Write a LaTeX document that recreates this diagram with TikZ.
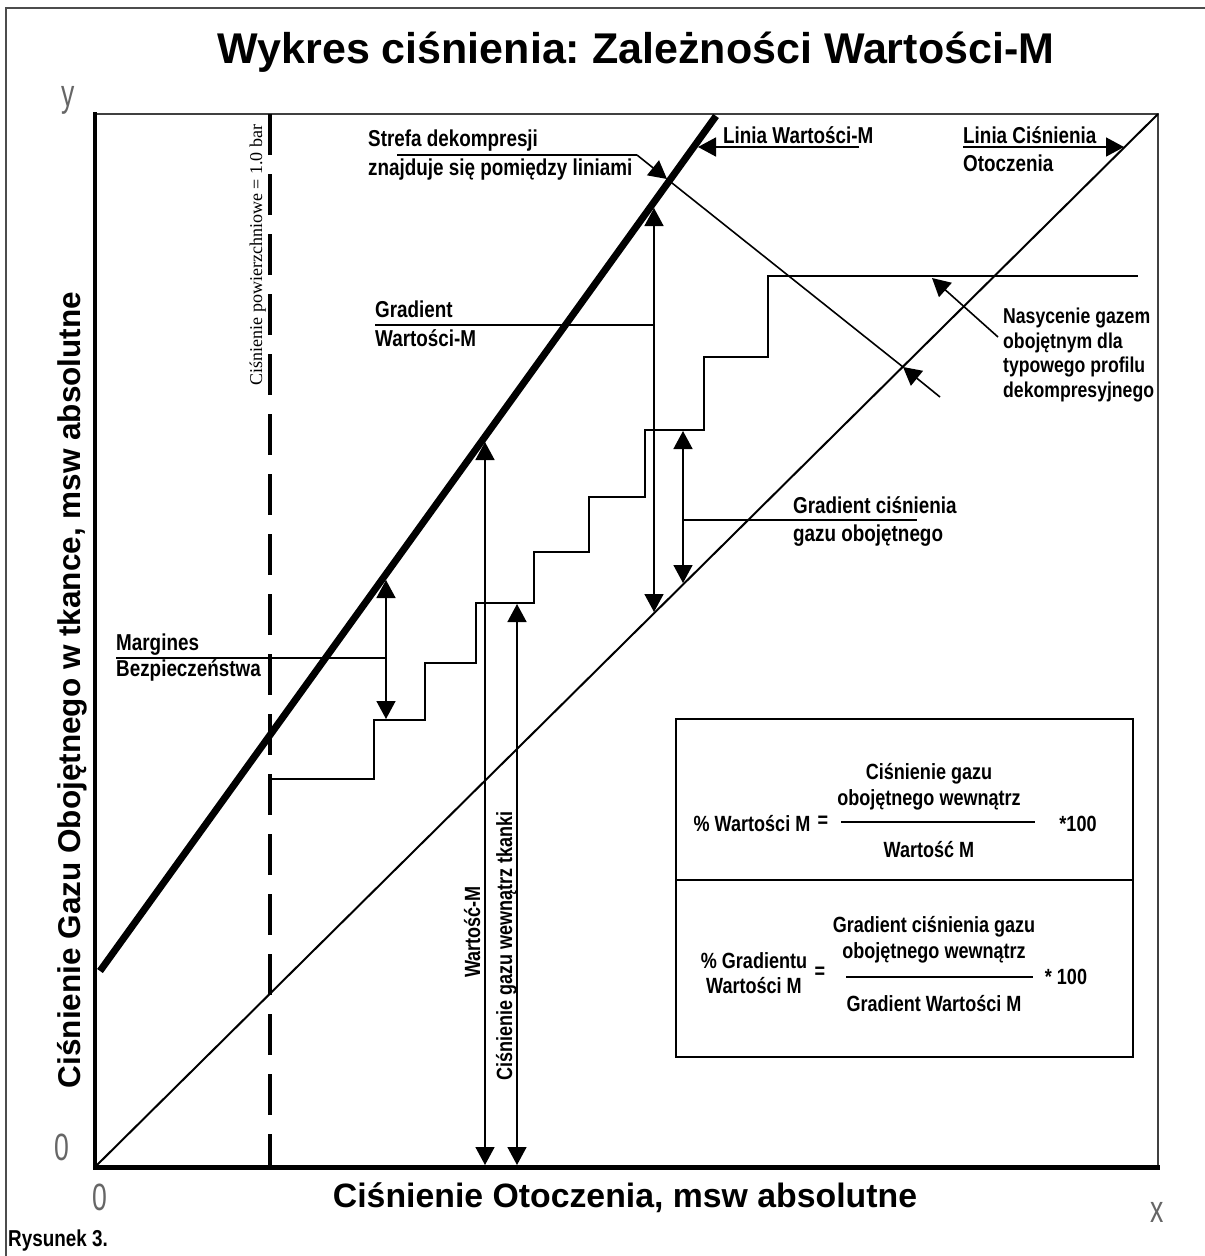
\documentclass[tikz,border=0pt]{standalone}
\usepackage{fontspec}
\newfontfamily\headfont{Liberation Sans}
\newfontfamily\narrowfont[FakeStretch=0.82]{Liberation Sans}
\newfontfamily\slimfont[FakeStretch=0.7]{Liberation Sans}
\newfontfamily\timesfont{Liberation Serif}
\usetikzlibrary{arrows.meta}
\frenchspacing

\tikzset{
  fine/.style={line width=1.6pt},
  lbl/.style={font=\narrowfont\bfseries\fontsize{23}{#1}\selectfont, inner sep=0pt, align=left},
  lbl/.default=25,
  boxlbl/.style={font=\narrowfont\bfseries\fontsize{22}{#1}\selectfont, inner sep=0pt, align=center},
  boxlbl/.default=26,
  axlbl/.style={font=\slimfont\fontsize{38}{38}\selectfont, text=black!60, inner sep=0pt},
}

\begin{document}
\begin{tikzpicture}[x=1pt,y=-1pt,>={Triangle[length=18pt,width=19pt]}]
  \useasboundingbox (0,0) rectangle (1205,1256);
  \draw[line width=1.5pt,black!70] (1205,8) -- (6,8) -- (6,1256);
  \node[font=\headfont\bfseries\fontsize{43}{50}\selectfont, anchor=base] (title) at (636,63) {Wykres ciśnienia: Zależności Wartości-M};

  \draw[line width=2pt,black!75] (95,114) -- (1158,114) -- (1158,1167);
  \draw[line width=4pt] (95,112) -- (95,1169);
  \draw[line width=5pt] (93,1167) -- (1160,1167);
  \node[axlbl] (ylab) at (68,100) {y};
  \node[axlbl] (yzero) at (62,1147) {0};
  \node[axlbl] (xzero) at (100,1197) {0};
  \node[axlbl] (xlab) at (1157,1212) {x};
  \node[rotate=90, anchor=base, font=\headfont\bfseries\fontsize{31.5}{36}\selectfont] (yname) at (80,690) {Ciśnienie Gazu Obojętnego w tkance, msw absolutne};
  \node[anchor=base, font=\headfont\bfseries\fontsize{33.8}{40}\selectfont] (xname) at (625,1207) {Ciśnienie Otoczenia, msw absolutne};
  \node[lbl, anchor=west] (fig) at (8,1241) {Rysunek 3.};

  \draw[line width=4pt, dash pattern=on 41pt off 19pt] (270,114) -- (270,1167);
  \node[rotate=90, anchor=base, inner sep=0pt, font=\timesfont\fontsize{18}{21}\selectfont] (surf) at (262,255) {Ciśnienie powierzchniowe = 1.0 bar};

  \coordinate (origin) at (95,1167);
  \coordinate (corner) at (1158,114);
  \coordinate (mlow) at (100,971);
  \coordinate (mtop) at (716,116);
  \draw[line width=2pt] (origin) -- (corner);
  \draw[line width=7pt] (mlow) -- (mtop);

  \draw[fine] (270,779) -| (374,720) -| (425,663) -| (476,603) -| (534,552) -| (589,497)
    -| (645,430) -| (704,357) -| (768,276) -- (1138,276);

  \node[lbl=29, anchor=west] (strefa) at (368,155) {Strefa dekompresji\\znajduje się pomiędzy liniami};
  \coordinate (szA) at (397,155);
  \coordinate (szB) at (637,155);
  \coordinate (szM) at (667,179);
  \coordinate (szO) at (903,367);
  \coordinate (szE) at (940,397);
  \draw[fine] (szA) -- (szB);
  \draw[fine,->] (szB) -- (szM);
  \draw[fine] (szM) -- (szO);
  \draw[fine,->] (szE) -- (szO);

  \node[lbl, anchor=west] (linm) at (723,135) {Linia Wartości-M};
  \coordinate (linmA) at (859,147);
  \coordinate (linmB) at (698,147);
  \draw[fine,->] (linmA) -- (linmB);

  \node[lbl=28, anchor=west] (linc) at (963,149) {Linia Ciśnienia\\Otoczenia};
  \coordinate (lincA) at (963,147);
  \coordinate (lincB) at (1124,147);
  \draw[fine,->] (lincA) -- (lincB);

  \node[lbl=24.7, anchor=west, font=\narrowfont\bfseries\fontsize{21.5}{24.7}\selectfont] (sat) at (1003,355) {Nasycenie gazem\\obojętnym dla\\typowego profilu\\dekompresyjnego};
  \coordinate (satA) at (998,337);
  \coordinate (satB) at (932,278);
  \draw[fine,->] (satA) -- (satB);

  \node[lbl=29, anchor=west] (gradm) at (375,324) {Gradient\\Wartości-M};
  \coordinate (gmT) at (654,208);
  \coordinate (gmB) at (654,612);
  \coordinate (gmL) at (375,325);
  \coordinate (gmR) at (654,325);
  \draw[fine,<->] (gmT) -- (gmB);
  \draw[fine] (gmL) -- (gmR);

  \node[lbl=28, anchor=west] (gradg) at (793,521) {Gradient ciśnienia\\gazu obojętnego};
  \coordinate (ggT) at (683,431);
  \coordinate (ggB) at (683,583);
  \coordinate (ggL) at (683,520);
  \coordinate (ggR) at (917,520);
  \draw[fine,<->] (ggT) -- (ggB);
  \draw[fine] (ggL) -- (ggR);

  \node[lbl=26, anchor=west] (marg) at (116,658) {Margines\\Bezpieczeństwa};
  \coordinate (mgT) at (386,580);
  \coordinate (mgB) at (386,719);
  \coordinate (mgL) at (116,658);
  \coordinate (mgR) at (386,658);
  \draw[fine,<->] (mgT) -- (mgB);
  \draw[fine] (mgL) -- (mgR);

  \coordinate (mvT) at (485,442);
  \coordinate (mvB) at (485,1165);
  \coordinate (tgT) at (517,604);
  \coordinate (tgB) at (517,1165);
  \draw[fine,<->] (mvT) -- (mvB);
  \draw[fine,<->] (tgT) -- (tgB);
  \node[boxlbl, rotate=90, anchor=base] (mval) at (480,932) {Wartość-M};
  \node[boxlbl, rotate=90, anchor=base] (tgas) at (512,946) {Ciśnienie gazu wewnątrz tkanki};

  \draw[line width=2pt] (676,719) rectangle (1133,1057);
  \draw[line width=2pt] (676,880) -- (1133,880);
  \node[boxlbl] (pw) at (752,824) {\% Wartości M};
  \node[boxlbl] (eqa) at (823,822) {=};
  \node[boxlbl] (numa) at (929,787) {Ciśnienie gazu\\obojętnego wewnątrz};
  \draw[fine] (841,822) -- (1035,822);
  \node[boxlbl] (dena) at (929,850) {Wartość M};
  \node[boxlbl] (ka) at (1078,824) {*100};
  \node[boxlbl=25] (pg) at (754,973) {\% Gradientu\\Wartości M};
  \node[boxlbl] (eqb) at (820,973) {=};
  \node[boxlbl] (numb) at (934,940) {Gradient ciśnienia gazu\\obojętnego wewnątrz};
  \draw[fine] (846,977) -- (1033,977);
  \node[boxlbl] (denb) at (934,1004) {Gradient Wartości M};
  \node[boxlbl] (kb) at (1066,977) {* 100};
\end{tikzpicture}
\end{document}
